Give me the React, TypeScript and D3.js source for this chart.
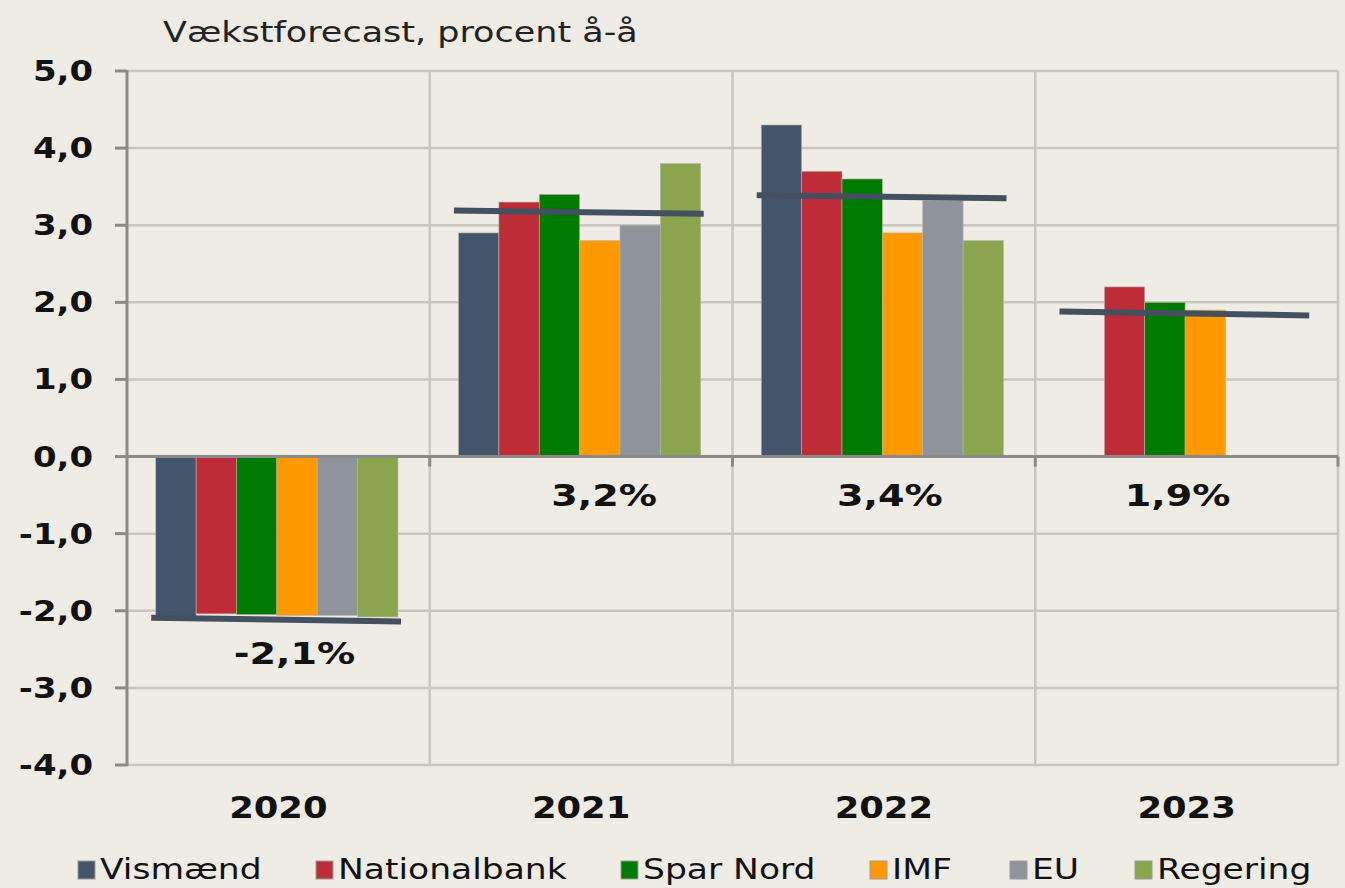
import React from "react";
import * as d3 from "d3";

// data
const years = ["2020", "2021", "2022", "2023"];
const series = ["Vismænd", "Nationalbank", "Spar Nord", "IMF", "EU", "Regering"];
const colors = ["#44546a", "#be2d37", "#007a00", "#ff9900", "#8f939b", "#8ba44e"];

const vismaend = [-2.08, 2.9, 4.3, null];
const nationalbank = [-2.04, 3.3, 3.7, 2.2];
const sparNord = [-2.05, 3.4, 3.6, 2.0];
const imf = [-2.06, 2.8, 2.9, 1.9];
const eu = [-2.06, 3.0, 3.32, null];
const regering = [-2.08, 3.8, 2.8, null];
const values = [vismaend, nationalbank, sparNord, imf, eu, regering];

// consensus line (drawn slightly sloped in the original)
const avgStart = [-2.09, 3.19, 3.39, 1.88];
const avgEnd = [-2.14, 3.15, 3.35, 1.83];
const avgLabels = ["-2,1%", "3,2%", "3,4%", "1,9%"];

const yTicks = [5, 4, 3, 2, 1, 0, -1, -2, -3, -4];

// layout
const W = 1345;
const H = 888;
const left = 127;
const right = 1338;
const top = 71;
const bottom = 765;
const labelNudge = [16, 23, 6, -9];
const legendX = [78, 316, 621, 870, 1010, 1135];

// the original text is rendered a bit wider than DejaVu, so stretch it horizontally
const Txt = ({ x, y, sx, children, ...rest }: any) => (
  <text transform={`translate(${x},${y}) scale(${sx},1)`} fill="#111" {...rest}>
    {children}
  </text>
);

const App = () => {
  const x0 = d3.scaleBand().domain(years).range([left, right]).padding(0);
  const bw = x0.bandwidth();
  const x1 = d3.scaleBand().domain(series).range([bw * 0.095, bw * 0.895]).padding(0);
  const y = d3.scaleLinear().domain([-4, 5]).range([bottom, top]);
  const fmt = (v: number) => d3.format(".1f")(v).replace(".", ",").replace("−", "-");

  return (
    <div style={{ position: "fixed", left: 0, top: 0 }}>
      <svg width={W} height={H} style={{ display: "block", fontFamily: "'DejaVu Sans', Verdana, sans-serif" }}>
        <rect width={W} height={H} fill="#efebe5" />
        <Txt x={163} y={42} sx={1.25} fontSize={28} fill="#222">Vækstforecast, procent å-å</Txt>

        {/* grid */}
        {yTicks.map((t) => (
          <line key={"g" + t} x1={left} x2={right} y1={y(t)} y2={y(t)} stroke="#c9c5bf" strokeWidth={2.5} />
        ))}
        {years.map((yr) => (
          <line key={"v" + yr} x1={x0(yr)! + bw} x2={x0(yr)! + bw} y1={top} y2={bottom} stroke="#c9c5bf" strokeWidth={2.5} />
        ))}

        {/* bars */}
        {years.map((yr, i) => (
          <g key={"b" + yr} transform={`translate(${x0(yr)},0)`}>
            {series.map((s, j) => {
              const v = values[j][i];
              if (v == null) return null;
              return (
                <rect
                  key={s}
                  x={x1(s)}
                  y={Math.min(y(v), y(0))}
                  width={x1.bandwidth()}
                  height={Math.abs(y(v) - y(0))}
                  fill={colors[j]}
                  stroke="#b8b4ae"
                  strokeWidth={0.6}
                />
              );
            })}
          </g>
        ))}

        {/* y axis */}
        <line x1={left} x2={left} y1={top - 1} y2={bottom + 1} stroke="#8a8a8a" strokeWidth={3} />
        {yTicks.map((t) => (
          <g key={"t" + t}>
            <line x1={left - 12} x2={left} y1={y(t)} y2={y(t)} stroke="#8a8a8a" strokeWidth={3} />
            <Txt x={93} y={y(t) + 10} sx={1.17} textAnchor="end" fontSize={29} fontWeight="bold">
              {fmt(t)}
            </Txt>
          </g>
        ))}

        {/* zero axis */}
        <line x1={left} x2={right} y1={y(0)} y2={y(0)} stroke="#8a8a8a" strokeWidth={3} />
        {years.map((yr) => (
          <line key={"xt" + yr} x1={x0(yr)! + bw} x2={x0(yr)! + bw} y1={y(0)} y2={y(0) + 10} stroke="#8a8a8a" strokeWidth={3} />
        ))}

        {/* average lines + labels */}
        {years.map((yr, i) => (
          <g key={"a" + yr}>
            <line
              x1={x0(yr)! + bw * 0.08}
              x2={x0(yr)! + bw * 0.905}
              y1={y(avgStart[i])}
              y2={y(avgEnd[i])}
              stroke="#44505e"
              strokeWidth={6}
            />
            <Txt
              x={x0(yr)! + bw / 2 + labelNudge[i]}
              y={avgStart[i] < 0 ? y(avgStart[i]) + 46 : y(0) + 49}
              sx={1.27}
              textAnchor="middle"
              fontSize={30}
              fontWeight="bold"
            >
              {avgLabels[i]}
            </Txt>
          </g>
        ))}

        {/* x labels */}
        {years.map((yr) => (
          <Txt key={"xl" + yr} x={x0(yr)! + bw / 2} y={818} sx={1.14} textAnchor="middle" fontSize={31} fontWeight="bold">
            {yr}
          </Txt>
        ))}

        {/* legend */}
        {series.map((s, j) => (
          <g key={"l" + s} transform={`translate(${legendX[j]},0)`}>
            <rect x={0} y={861} width={17} height={18} fill={colors[j]} stroke="#a09c96" strokeWidth={1} />
            <Txt x={22} y={879} sx={1.19} fontSize={29}>{s}</Txt>
          </g>
        ))}
      </svg>
    </div>
  );
};

export default App;
